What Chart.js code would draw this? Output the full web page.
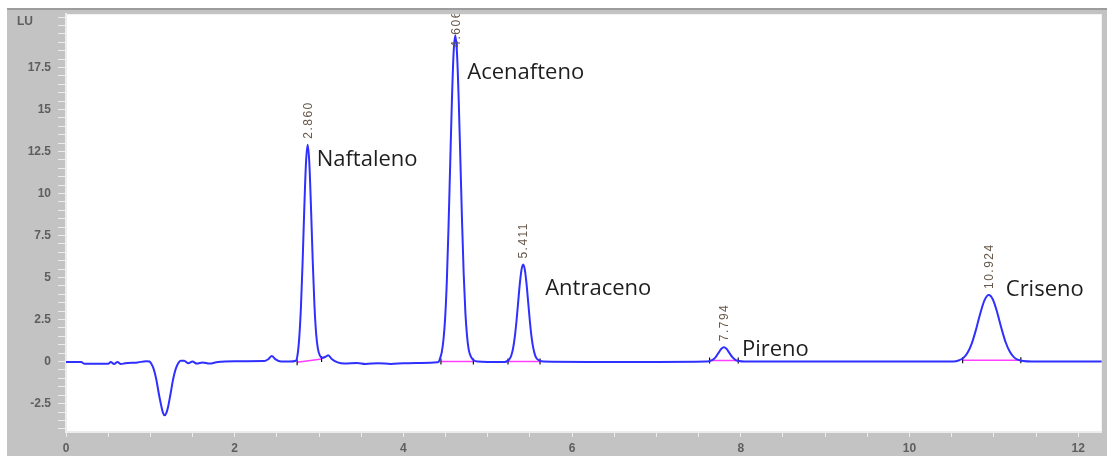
<!DOCTYPE html>
<html>
<head>
<meta charset="utf-8">
<script src="https://cdn.jsdelivr.net/npm/chart.js"></script>
<style>
  html, body { margin: 0; padding: 0; background: #fff; }
  #wrap { width: 1107px; height: 456px; }
</style>
</head>
<body>
<div id="wrap"><canvas id="chromatogram"></canvas></div>
<script>
// retention time (min) and detector signal (LU)
const retTime = [
    0.00, 0.18, 0.22, 0.50, 0.53, 0.57, 0.61, 0.65, 0.70, 0.85, 0.95,
    0.99, 1.01, 1.04, 1.07, 1.10, 1.13, 1.15, 1.17, 1.19, 1.21, 1.24, 1.27, 1.30, 1.33, 1.36,
    1.40, 1.45, 1.50, 1.55, 1.62, 1.70, 1.80, 2.00, 2.35, 2.40, 2.44, 2.48, 2.55, 2.65,
    2.725, 2.745, 2.765, 2.785, 2.805, 2.825, 2.845, 2.865, 2.885, 2.905, 2.925, 2.945, 2.965, 2.985, 3.01, 3.04,
    3.08, 3.11, 3.15, 3.22, 3.30, 3.45, 3.55, 3.70, 3.85, 4.00, 4.20, 4.40,
    4.42, 4.435, 4.455, 4.475, 4.495, 4.515, 4.535, 4.555, 4.575, 4.595, 4.615, 4.635, 4.655, 4.675, 4.695, 4.715, 4.735, 4.755, 4.775, 4.80, 4.83, 4.88,
    5.00, 5.20,
    5.24, 5.26, 5.28, 5.30, 5.32, 5.34, 5.36, 5.38, 5.40, 5.42, 5.44, 5.46, 5.48, 5.50, 5.52, 5.54, 5.56, 5.58, 5.61, 5.66,
    6.20, 7.00, 7.58,
    7.62, 7.66, 7.70, 7.74, 7.77, 7.80, 7.83, 7.86, 7.90, 7.94, 7.98, 8.04,
    9.00, 10.52,
    10.59, 10.64, 10.69, 10.74, 10.79, 10.84, 10.89, 10.94, 10.99, 11.04, 11.09, 11.14, 11.19, 11.24, 11.29, 11.35, 11.45,
    12.28
];
const signal = [
    -0.03, -0.03, -0.13, -0.13, -0.03, -0.15, -0.03, -0.15, -0.10, -0.05, 0.02,
    0.0, -0.12, -0.45, -1.05, -1.9, -2.65, -3.05, -3.2, -3.05, -2.7, -1.9, -1.05, -0.45, -0.1, 0.05,
    0.05, -0.1, 0.0, -0.12, -0.05, -0.12, -0.02, 0.02, 0.03, 0.15, 0.33, 0.15, 0.0, 0.0,
    0.05, 0.4, 1.4, 3.2, 5.9, 9.1, 11.8, 12.9, 11.8, 9.1, 6.0, 3.4, 1.7, 0.8, 0.35, 0.22,
    0.3, 0.38, 0.15, -0.05, -0.12, -0.08, -0.14, -0.10, -0.14, -0.10, -0.08, -0.04,
    0.0, 0.2, 0.56, 1.3, 2.6, 4.8, 8.0, 11.8, 15.5, 18.35, 19.4, 18.4, 15.7, 12.1, 8.4, 5.2, 2.9, 1.5, 0.7, 0.3, 0.1, 0.0,
    -0.02, -0.02,
    0.06, 0.17, 0.38, 0.78, 1.44, 2.37, 3.5, 4.62, 5.46, 5.77, 5.46, 4.62, 3.5, 2.37, 1.44, 0.8, 0.4, 0.18, 0.07, 0.0,
    -0.02, -0.02, 0.0,
    0.02, 0.08, 0.25, 0.55, 0.76, 0.85, 0.76, 0.55, 0.26, 0.09, 0.03, 0.0,
    0.0, 0.0,
    0.08, 0.22, 0.54, 1.1, 1.93, 2.88, 3.66, 3.96, 3.68, 2.92, 1.98, 1.15, 0.58, 0.25, 0.1, 0.03, 0.0,
    0.0
];

// integrated peaks
const compounds = ['Naftaleno', 'Acenafteno', 'Antraceno', 'Pireno', 'Criseno'];
const peakRt = ['2.860', '4.606', '5.411', '7.794', '10.924'];
const peakApexTime = [2.865, 4.615, 5.42, 7.80, 10.94];
const peakApexHeight = [12.9, 19.4, 5.77, 0.85, 3.96];
const baseFrom = [2.74, 4.445, 5.24, 7.63, 10.63];
const baseTo = [3.03, 4.83, 5.62, 7.97, 11.32];
const baseFromY = [-0.04, 0.0, 0.0, 0.06, 0.08];
const baseToY = [0.16, 0.0, 0.0, 0.06, 0.08];

// axes
const xTicks = [0, 0.5, 1, 1.5, 2, 2.5, 3, 3.5, 4, 4.5, 5, 5.5, 6, 6.5, 7, 7.5, 8, 8.5, 9, 9.5, 10, 10.5, 11, 11.5, 12];
const xTickLabels = [0, 2, 4, 6, 8, 10, 12];
const yTicks = [-4, -3.5, -3, -2.5, -2, -1.5, -1, -0.5, 0, 0.5, 1, 1.5, 2, 2.5, 3, 3.5, 4, 4.5, 5, 5.5, 6, 6.5, 7, 7.5, 8, 8.5,
    9, 9.5, 10, 10.5, 11, 11.5, 12, 12.5, 13, 13.5, 14, 14.5, 15, 15.5, 16, 16.5, 17, 17.5, 18, 18.5, 19, 19.5, 20, 20.5];
const yTickLabels = [-2.5, 0, 2.5, 5, 7.5, 10, 12.5, 15, 17.5];

// label placement next to each apex (px), kept apart from the data
const nameOffset = [[9, 15], [12, 37], [22, 24], [18, 2], [17, -5]];

const trace = retTime.map((t, i) => ({ x: t, y: signal[i] }));

const baselineSets = compounds.map((c, i) => ({
    label: c + ' baseline',
    data: [{ x: baseFrom[i], y: baseFromY[i] }, { x: baseTo[i], y: baseToY[i] }],
    borderColor: '#ff40ff',
    borderWidth: 1.5,
    pointStyle: 'line',
    rotation: 90,
    pointRadius: 3,
    pointBorderColor: '#111',
    pointBorderWidth: 1.2
}));

// gray instrument frame behind the white plot area
const framePlugin = {
    id: 'frame',
    beforeDraw(chart) {
        const { ctx, width, height, chartArea: a } = chart;
        ctx.save();
        ctx.fillStyle = '#ffffff';
        ctx.fillRect(0, 0, width, height);
        ctx.fillStyle = '#c3c3c3';
        ctx.fillRect(7, 9, width - 7, height - 9);
        ctx.fillStyle = '#9c9c9c';
        ctx.fillRect(7, 8, width - 7, 2);
        ctx.fillStyle = '#ffffff';
        ctx.fillRect(a.left, a.top, a.right - a.left, a.bottom - a.top);
        ctx.font = 'bold 12px "Liberation Sans", Arial';
        ctx.fillStyle = '#5e5e5e';
        ctx.textBaseline = 'middle';
        ctx.fillText('LU', 17, 22);
        ctx.restore();
    }
};

// retention times (rotated) and compound names
const peakTextPlugin = {
    id: 'peakText',
    afterDatasetsDraw(chart) {
        const { ctx, chartArea: a } = chart;
        const xs = chart.scales.x, ys = chart.scales.y;
        ctx.save();
        ctx.beginPath();
        ctx.rect(a.left, a.top, a.right - a.left, a.bottom - a.top);
        ctx.clip();
        peakRt.forEach((rt, i) => {
            const px = xs.getPixelForValue(peakApexTime[i]);
            const py = ys.getPixelForValue(peakApexHeight[i]);
            ctx.font = '12px "Liberation Sans", Arial';
            ctx.letterSpacing = '1.5px';
            const w = ctx.measureText(rt).width;
            const start = Math.max(py - 6, a.top + w - 4);
            ctx.save();
            ctx.translate(px + 1, start);
            ctx.rotate(-Math.PI / 2);
            ctx.fillStyle = '#66584a';
            ctx.textAlign = 'left';
            ctx.textBaseline = 'middle';
            ctx.fillText(rt, 0, 0);
            ctx.restore();

            ctx.letterSpacing = '0px';
            ctx.font = '22px "Open Sans"';
            ctx.fillStyle = '#1e1e1e';
            ctx.textAlign = 'left';
            ctx.textBaseline = 'middle';
            ctx.fillText(compounds[i], px + nameOffset[i][0], py + nameOffset[i][1]);
        });
        ctx.restore();
    }
};

const tickFont = { family: '"Liberation Sans", Arial', size: 12, weight: 'bold' };

const config = {
    type: 'line',
    data: {
        datasets: [{
            label: 'FLD signal',
            data: trace,
            borderColor: '#2f2fff',
            borderWidth: 2,
            pointRadius: 0,
            cubicInterpolationMode: 'monotone'
        }, ...baselineSets]
    },
    options: {
        responsive: true,
        maintainAspectRatio: false,
        animation: false,
        layout: { padding: { left: 7, top: 11, right: 0, bottom: 0 } },
        plugins: {
            legend: { display: false },
            tooltip: { enabled: false }
        },
        scales: {
            x: {
                type: 'linear',
                min: 0,
                max: 12.28,
                afterBuildTicks: (ax) => { ax.ticks = xTicks.map(v => ({ value: v })); },
                afterFit: (ax) => { ax.height = 24; },
                ticks: {
                    autoSkip: false,
                    maxRotation: 0,
                    padding: 4,
                    font: tickFont,
                    color: '#5e5e5e',
                    callback: (v) => xTickLabels.includes(v) ? String(v) : ''
                },
                grid: { drawOnChartArea: false, tickLength: 5, tickColor: '#ececec' },
                border: { color: '#ececec', width: 2 }
            },
            y: {
                type: 'linear',
                min: -4.19,
                max: 20.67,
                afterBuildTicks: (ax) => { ax.ticks = yTicks.map(v => ({ value: v })); },
                afterFit: (ax) => { ax.width = 59; },
                ticks: {
                    autoSkip: false,
                    padding: 7,
                    font: tickFont,
                    color: '#5e5e5e',
                    callback: (v) => yTickLabels.includes(v) ? String(v) : ''
                },
                grid: {
                    drawOnChartArea: false,
                    tickLength: 8,
                    tickColor: '#ececec'
                },
                border: { color: '#ececec', width: 2 }
            }
        }
    },
    plugins: [framePlugin, peakTextPlugin]
};

new Chart(document.getElementById('chromatogram'), config);
</script>
</body>
</html>
